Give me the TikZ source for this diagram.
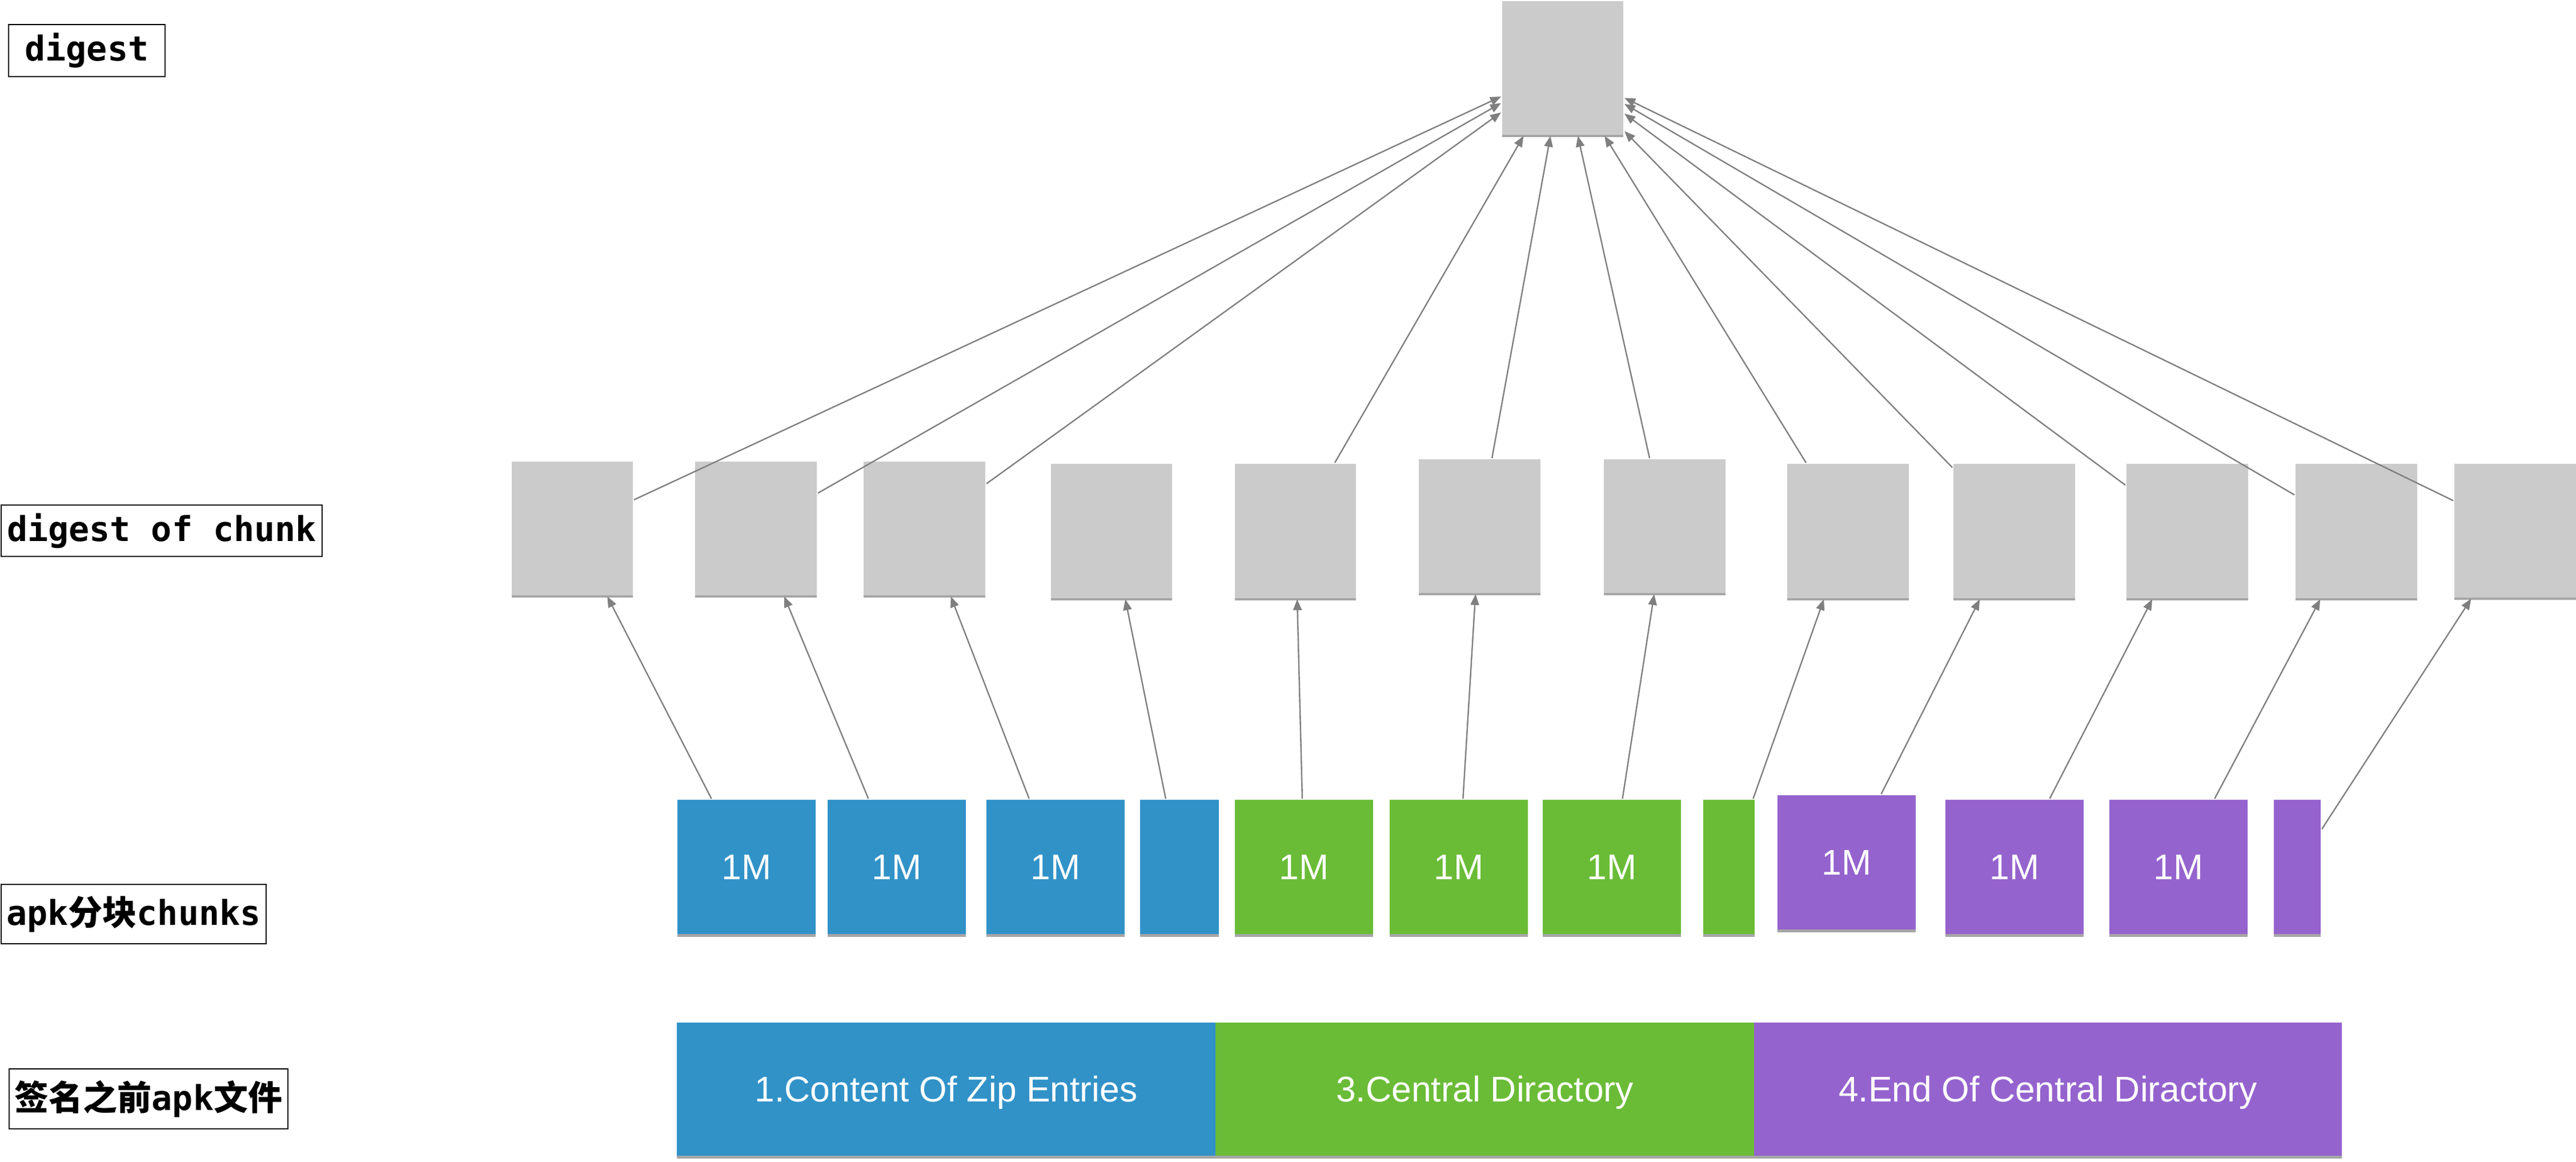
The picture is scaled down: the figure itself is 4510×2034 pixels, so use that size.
\documentclass[tikz,border=0pt]{standalone}
\usepackage{fontspec}
\setmainfont{Liberation Sans}
\setmonofont{DejaVu Sans Mono}
\newfontfamily\cjk{Noto Sans CJK SC}
\usetikzlibrary{shadows,arrows.meta}
\definecolor{cblue}{HTML}{3192C8}
\definecolor{cgreen}{HTML}{6ABC37}
\definecolor{cpurple}{HTML}{9563CE}
\definecolor{cgray}{HTML}{CBCBCB}
\definecolor{linec}{HTML}{7F7F7F}
\tikzset{
  shad/.style={drop shadow={shadow xshift=0pt, shadow yshift=-0.45pt, opacity=0.35, fill=black}},
  gbox/.style={fill=cgray, inner sep=0pt, shad},
  cbox/.style={fill=#1, inner sep=0pt, text=white, shad,
    font=\fontsize{6.25}{7}\selectfont, text height=4.47pt, text depth=0pt},
  lbl/.style={draw=black, line width=0.28pt, inner sep=0pt,
    font=\ttfamily\bfseries\fontsize{6}{7}\selectfont},
  arr/.style={draw=linec, line width=0.24pt, -{Triangle[length=1.9pt,width=1.5pt]}},
}
% #1 style, #2 name, #3 x1, #4 y1, #5 x2, #6 y2, #7 text
\newcommand\mkbox[7]{%
  \pgfmathsetmacro\mkbw{(#5-#3)*0.1}%
  \pgfmathsetmacro\mkbh{(#6-#4)*0.1}%
  \pgfmathsetmacro\mkbx{(#3+#5)/2}%
  \pgfmathsetmacro\mkby{(#4+#6)/2}%
  \node[#1, minimum width=\mkbw pt, minimum height=\mkbh pt] (#2) at (\mkbx,\mkby) {#7};}
\begin{document}
\begin{tikzpicture}[x=0.1pt,y=-0.1pt]
\useasboundingbox (0,0) rectangle (4510,2034);
% labels
\mkbox{lbl}{L1}{15}{43}{289}{134}{digest}
\mkbox{lbl}{L2}{2}{884}{564}{974}{digest of chunk}
\mkbox{lbl}{L3}{2}{1548}{466}{1652}{apk{\cjk\bfseries 分块}chunks}
\mkbox{lbl}{L4}{16}{1871}{504}{1976}{{\cjk\bfseries 签名之前}apk{\cjk\bfseries 文件}}
% top digest
\mkbox{gbox}{top}{2630}{2}{2842}{236}{}
% digest of chunks
\mkbox{gbox}{d1}{896}{808}{1108}{1042}{}
\mkbox{gbox}{d2}{1217}{808}{1430}{1042}{}
\mkbox{gbox}{d3}{1512}{808}{1725}{1042}{}
\mkbox{gbox}{d4}{1840}{812}{2052}{1047}{}
\mkbox{gbox}{d5}{2162}{812}{2374}{1047}{}
\mkbox{gbox}{d6}{2484}{804}{2697}{1038}{}
\mkbox{gbox}{d7}{2808}{804}{3021}{1038}{}
\mkbox{gbox}{d8}{3129}{812}{3342}{1047}{}
\mkbox{gbox}{d9}{3420}{812}{3633}{1047}{}
\mkbox{gbox}{d10}{3723}{812}{3936}{1047}{}
\mkbox{gbox}{d11}{4019}{812}{4232}{1047}{}
\mkbox{gbox}{d12}{4297}{812}{4510}{1046}{}
% chunks
\mkbox{cbox=cblue}{c1}{1186}{1400}{1428}{1635}{1M}
\mkbox{cbox=cblue}{c2}{1449}{1400}{1691}{1635}{1M}
\mkbox{cbox=cblue}{c3}{1727}{1400}{1969}{1635}{1M}
\mkbox{cbox=cblue}{c4}{1996}{1400}{2134}{1635}{}
\mkbox{cbox=cgreen}{c5}{2162}{1400}{2404}{1635}{1M}
\mkbox{cbox=cgreen}{c6}{2433}{1400}{2675}{1635}{1M}
\mkbox{cbox=cgreen}{c7}{2701}{1400}{2943}{1635}{1M}
\mkbox{cbox=cgreen}{c8}{2982}{1400}{3072}{1635}{}
\mkbox{cbox=cpurple}{c9}{3112}{1392}{3354}{1627}{1M}
\mkbox{cbox=cpurple}{c10}{3406}{1400}{3648}{1635}{1M}
\mkbox{cbox=cpurple}{c11}{3693}{1400}{3935}{1635}{1M}
\mkbox{cbox=cpurple}{c12}{3981}{1400}{4063}{1635}{}
% apk file sections
\mkbox{cbox=cblue}{b1}{1185}{1790}{2128}{2023}{1.Content Of Zip Entries}
\mkbox{cbox=cgreen}{b2}{2128}{1790}{3071}{2023}{3.Central Diractory}
\mkbox{cbox=cpurple}{b3}{3071}{1790}{4100}{2023}{4.End Of Central Diractory}
% arrows chunk -> digest of chunk
\foreach \i in {1,...,12} \draw[arr] (c\i) -- (d\i);
% arrows digest of chunk -> digest
\foreach \i in {1,2,3,5,6,7,8,9,10,11,12} \draw[arr] (d\i) -- (top);
\end{tikzpicture}
\end{document}
